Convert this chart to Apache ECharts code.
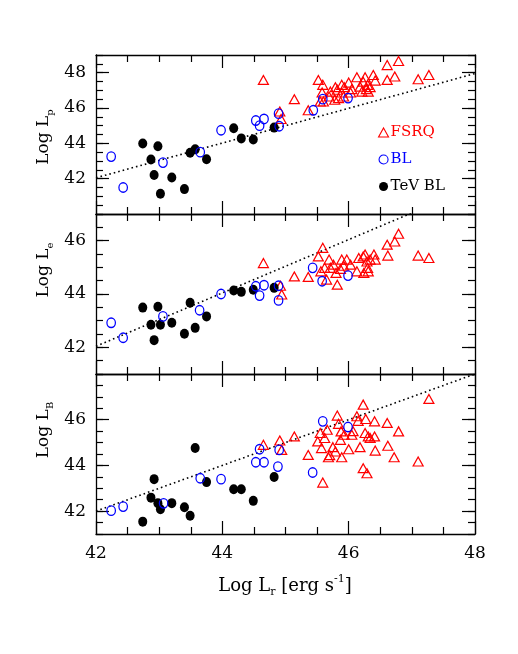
<!DOCTYPE html>
<html>
<head>
<meta charset="utf-8">
<script src="https://cdn.jsdelivr.net/npm/echarts@6/dist/echarts.min.js"></script>
<style>
  html, body { margin: 0; padding: 0; background: #fff; }
  #main { width: 518px; height: 654px; }
</style>
</head>
<body>
<div id="main"></div>
<script>
// ---- data ----
// panel 1: Log Lp vs Log Lr
const fsrqP = [[44.65,47.59],[44.91,45.80],[44.93,45.38],[45.14,46.50],[45.36,45.87],[45.52,47.59],[45.59,47.31],
  [45.58,46.88],[45.55,46.37],[45.60,46.37],[45.69,46.65],[45.71,46.93],[45.78,46.47],[45.79,47.18],[45.82,47.03],
  [45.84,46.56],[45.89,47.31],[45.89,46.88],[45.92,46.65],[45.93,47.18],[46.00,47.44],[46.03,46.88],[46.05,47.07],
  [46.13,47.74],[46.18,47.21],[46.21,46.93],[46.23,47.49],[46.26,47.74],[46.28,47.07],[46.30,47.31],[46.31,46.93],
  [46.34,47.18],[46.39,47.87],[46.42,47.55],[46.61,48.43],[46.61,47.59],[46.73,47.78],[46.79,48.66],[47.10,47.63],[47.27,47.87]];
const blP = [[42.24,43.25],[42.43,41.50],[43.06,42.91],[43.65,43.50],[43.98,44.74],[44.53,45.29],[44.59,45.00],
  [44.66,45.38],[44.89,45.68],[44.90,44.97],[45.44,45.87],[45.59,46.50],[45.99,46.56]];
const tevP = [[42.74,43.99],[42.98,43.83],[42.87,43.08],[42.92,42.21],[43.02,41.15],[43.20,42.07],[43.40,41.41],
  [43.49,43.47],[43.57,43.66],[43.75,43.10],[44.18,44.85],[44.30,44.28],[44.49,44.22],[44.82,44.89]];

// panel 2: Log Le vs Log Lr
const fsrqE = [[44.65,45.16],[44.92,44.31],[44.94,43.98],[45.14,44.66],[45.36,44.64],[45.59,45.73],[45.52,45.41],
  [45.69,45.29],[45.56,44.85],[45.62,44.98],[45.65,44.54],[45.82,44.35],[45.80,44.79],[45.71,44.98],[45.76,45.10],
  [45.89,45.29],[45.87,44.94],[45.92,45.06],[45.97,45.29],[46.03,45.10],[46.13,44.85],[46.16,45.35],[46.23,45.41],
  [46.24,44.79],[46.26,45.48],[46.29,45.22],[46.30,44.98],[46.31,44.85],[46.34,45.29],[46.40,45.48],[46.42,45.29],
  [46.61,45.85],[46.62,45.44],[46.73,45.97],[46.79,46.26],[47.10,45.44],[47.27,45.35]];
const blE = [[42.24,42.92],[42.43,42.36],[43.06,43.16],[43.64,43.39],[43.98,44.00],[44.53,44.29],[44.59,43.94],
  [44.66,44.33],[44.89,44.31],[44.89,43.76],[45.43,44.98],[45.58,44.48],[45.99,44.69]];
const tevE = [[42.74,43.49],[42.98,43.52],[42.87,42.85],[42.92,42.27],[43.02,42.85],[43.20,42.92],[43.40,42.51],
  [43.49,43.67],[43.57,42.73],[43.75,43.16],[44.18,44.13],[44.30,44.08],[44.49,44.16],[44.82,44.23]];

// panel 3: Log LB vs Log Lr
const fsrqB = [[44.65,44.90],[44.91,45.09],[44.94,44.68],[45.14,45.27],[45.36,44.46],[45.51,45.05],[45.55,45.42],
  [45.57,44.76],[45.59,43.25],[45.62,45.20],[45.66,45.56],[45.68,44.36],[45.70,44.45],[45.75,44.80],[45.79,44.61],
  [45.82,46.18],[45.84,45.82],[45.87,45.12],[45.88,45.49],[45.89,44.36],[45.93,45.34],[46.00,44.71],[46.05,45.34],
  [46.07,45.50],[46.13,46.15],[46.15,45.95],[46.18,44.80],[46.23,46.66],[46.23,43.88],[46.26,45.42],[46.27,46.03],
  [46.29,43.66],[46.31,45.27],[46.34,45.20],[46.41,45.93],[46.41,45.27],[46.42,44.65],[46.61,45.86],[46.62,44.86],
  [46.72,44.36],[46.79,45.49],[47.10,44.17],[47.27,46.91]];
const blB = [[42.24,42.02],[42.43,42.20],[43.07,42.34],[43.65,43.44],[43.98,43.40],[44.53,44.14],[44.59,44.71],
  [44.66,44.14],[44.88,43.95],[44.90,44.68],[45.43,43.69],[45.59,45.93],[45.99,45.68]];
const tevB = [[42.74,41.54],[42.87,42.59],[42.92,43.40],[42.98,42.35],[43.02,42.08],[43.20,42.35],[43.40,42.17],
  [43.49,41.80],[43.57,44.76],[43.75,43.27],[44.18,42.96],[44.30,42.96],[44.49,42.45],[44.82,43.49]];

// dotted lines (end points)
const fitP = [[42, 42.05], [48, 47.95]];
const fitE = [[42, 42.04], [47, 47.04]];
const fitB = [[42, 42.0], [48, 48.0]];

const xRange = [42, 48];
const xTicks = [42, 44, 46, 48];
const yRanges = [[40, 49], [41, 47], [41, 48]];
const yTicks = [[42, 44, 46, 48], [42, 44, 46], [42, 44, 46]];
const yNames = ['Log L{s|p}', 'Log L{s|e}', 'Log L{s|B}'];
const legendNames = ['FSRQ', 'BL', 'TeV BL'];

const panels = [
  {fsrq: fsrqP, bl: blP, tev: tevP, fit: fitP},
  {fsrq: fsrqE, bl: blE, tev: tevE, fit: fitE},
  {fsrq: fsrqB, bl: blB, tev: tevB, fit: fitB}
];

// ---- chart ----
const font = 'DejaVu Serif';
const myChart = echarts.init(document.getElementById('main'));

const grids = [
  {left: 96, width: 379, top: 55, height: 159},
  {left: 96, width: 379, top: 214, height: 160},
  {left: 96, width: 379, top: 374, height: 160}
];

const lineBlack = {color: '#000', width: 1.3};
const tickBlack = {color: '#000', width: 1.2};

const xAxis = [];
const yAxis = [];
for (let i = 0; i < 3; i++) {
  const xb = {
    gridIndex: i, type: 'value', min: xRange[0], max: xRange[1], interval: 2,
    axisLine: {show: true, onZero: false, lineStyle: lineBlack},
    axisTick: {inside: true, length: 13, lineStyle: tickBlack},
    minorTick: {show: true, splitNumber: 4, length: 7, lineStyle: tickBlack},
    splitLine: {show: false}
  };
  xAxis.push(Object.assign({}, xb, {
    position: 'bottom',
    axisLabel: {show: i === 2, margin: 11, color: '#000', fontFamily: font, fontSize: 17,
      customValues: xTicks}
  }));
  xAxis.push(Object.assign({}, xb, {position: 'top', axisLabel: {show: false}}));

  const [mn, mx] = yRanges[i];
  // minor ticks every 0.5
  const minor = {
    gridIndex: i, type: 'value', min: mn, max: mx, interval: 0.5,
    axisLine: {show: true, onZero: false, lineStyle: lineBlack},
    axisTick: {inside: true, length: 7, lineStyle: tickBlack},
    axisLabel: {show: false}, splitLine: {show: false}
  };
  // major ticks + labels
  const major = {
    gridIndex: i, type: 'value', min: mn, max: mx,
    axisLine: {show: false},
    axisTick: {inside: true, length: 13, lineStyle: tickBlack, customValues: yTicks[i]},
    splitLine: {show: false}
  };
  yAxis.push(Object.assign({}, minor, {position: 'left'}));
  yAxis.push(Object.assign({}, major, {position: 'left',
    axisLabel: {show: true, margin: 10, color: '#000', fontFamily: font, fontSize: 17,
      customValues: yTicks[i]}}));
  yAxis.push(Object.assign({}, minor, {position: 'right'}));
  yAxis.push(Object.assign({}, major, {position: 'right', axisLabel: {show: false}}));
}

const series = [];
panels.forEach(function (p, i) {
  const ax = {xAxisIndex: 2 * i, yAxisIndex: 4 * i};
  series.push(Object.assign({
    type: 'line', data: p.fit, symbol: 'none', silent: true, z: 1,
    lineStyle: {color: '#000', width: 1.6, type: [1.6, 3]}
  }, ax));
  series.push(Object.assign({
    name: 'FSRQ', type: 'scatter', data: p.fsrq, symbol: 'triangle', symbolSize: [10, 9],
    itemStyle: {color: 'rgba(0,0,0,0)', borderColor: '#ff0000', borderWidth: 1.2, opacity: 1}
  }, ax));
  series.push(Object.assign({
    name: 'TeV BL', type: 'scatter', data: p.tev, symbol: 'circle', symbolSize: [9, 10],
    itemStyle: {color: '#000', opacity: 1}
  }, ax));
  series.push(Object.assign({
    name: 'BL', type: 'scatter', data: p.bl, symbol: 'circle', symbolSize: [8.5, 9.5],
    itemStyle: {color: 'rgba(0,0,0,0)', borderColor: '#0000ff', borderWidth: 1.3, opacity: 1}
  }, ax));
});

const yNameCenters = [137, 270, 430];
const graphic = yNames.map(function (t, i) {
  return {
    type: 'text', x: 44, y: yNameCenters[i], rotation: Math.PI / 2,
    style: {
      text: t, fill: '#000', fontFamily: font, fontSize: 17, lineHeight: 22,
      align: 'center', verticalAlign: 'middle',
      rich: {s: {fontSize: 10, fill: '#000', fontFamily: font, lineHeight: 12, verticalAlign: 'bottom'}}
    }
  };
});
graphic.push({
  type: 'text', x: 285, y: 586,
  style: {
    text: 'Log L{s|r} [erg s{u|-1}]', fill: '#000', fontFamily: font, fontSize: 18, lineHeight: 24,
    align: 'center', verticalAlign: 'middle',
    rich: {
      s: {fontSize: 11, fill: '#000', fontFamily: font, lineHeight: 12, verticalAlign: 'bottom'},
      u: {fontSize: 11, fill: '#000', fontFamily: font, lineHeight: 12, verticalAlign: 'top'}
    }
  }
});

const option = {
  animation: false,
  backgroundColor: '#fff',
  grid: grids,
  xAxis: xAxis,
  yAxis: yAxis,
  legend: {
    orient: 'vertical', left: 373, top: 120, itemWidth: 10, itemHeight: 9, itemGap: 12,
    selectedMode: false,
    itemStyle: {borderWidth: 1.1},
    textStyle: {fontFamily: font, fontSize: 15, padding: [0, 0, 0, -3]},
    data: [
      {name: legendNames[0], textStyle: {color: '#ff0000'}},
      {name: legendNames[1], textStyle: {color: '#0000ff'}},
      {name: legendNames[2], textStyle: {color: '#000'}}
    ]
  },
  graphic: graphic,
  series: series
};
myChart.setOption(option);
</script>
</body>
</html>
